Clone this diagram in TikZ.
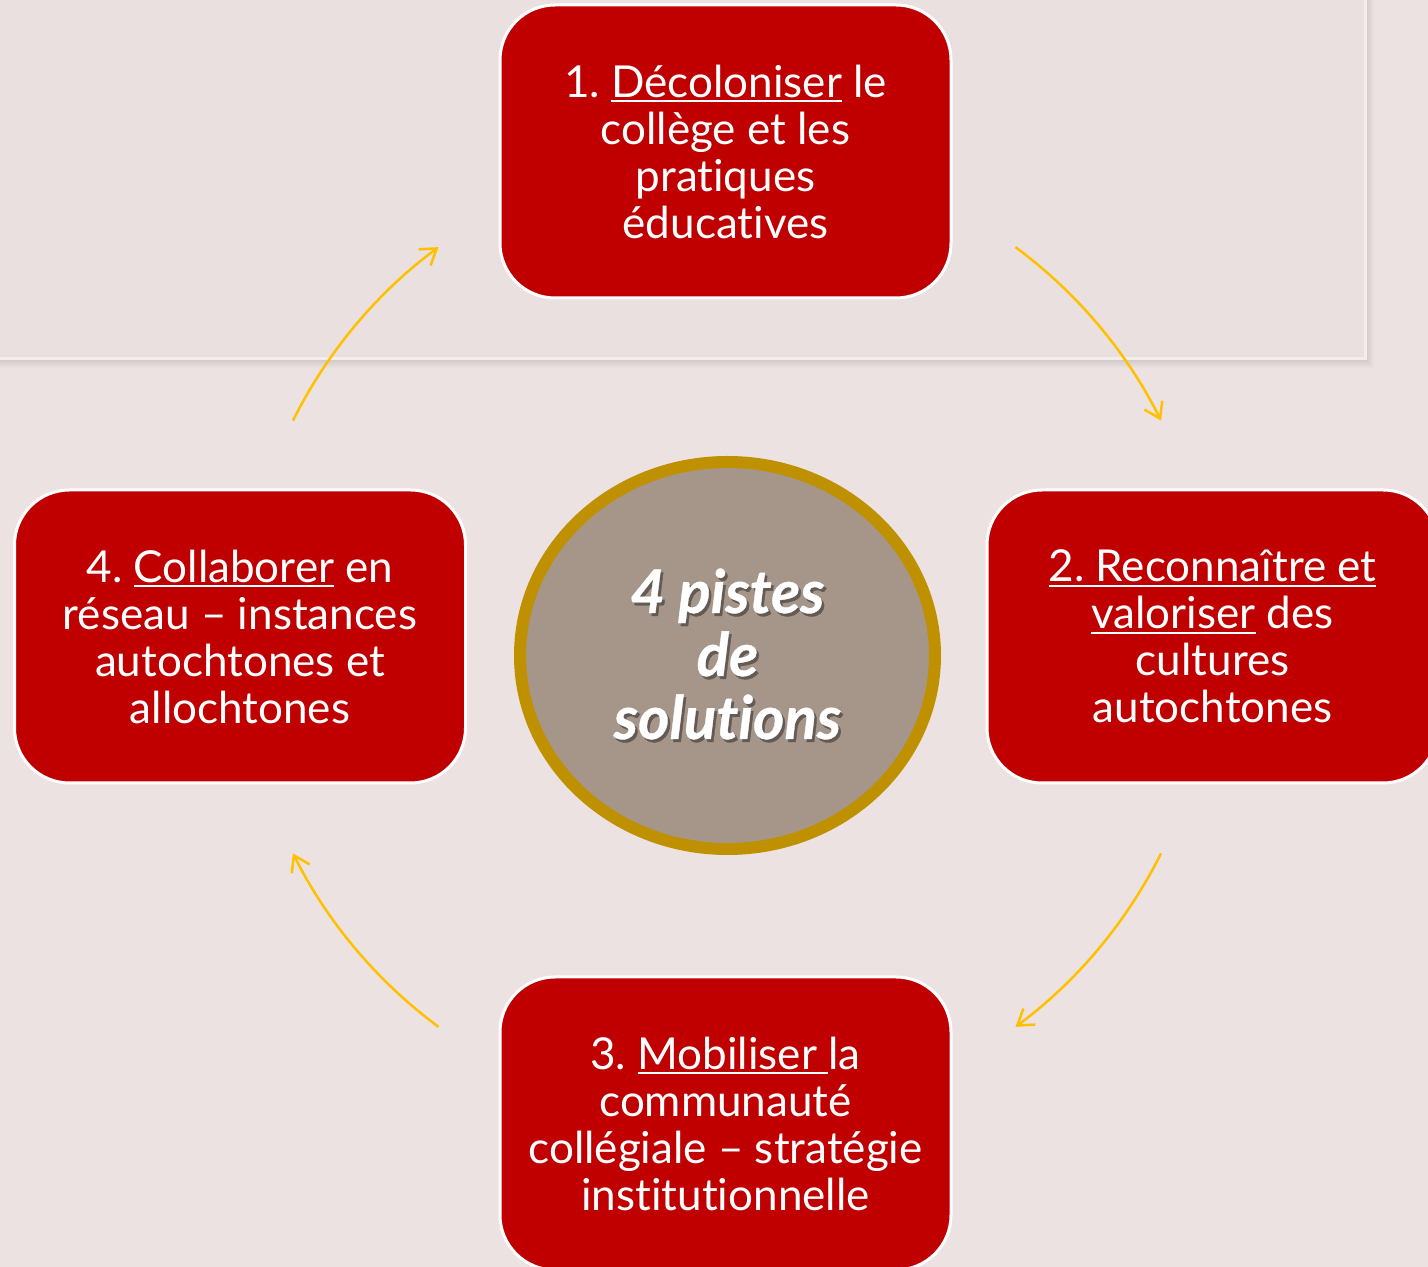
\documentclass[tikz,border=0pt]{standalone}
\usepackage{fontspec}
\setmainfont{Lato}[Ligatures={NoCommon,NoDiscretionary,NoRare}]
\newfontfamily\heavyfont{Lato}[FakeBold=0.6,Ligatures={NoCommon,NoDiscretionary,NoRare}]
\usetikzlibrary{arrows.meta,calc,shapes.geometric}
\definecolor{bgc}{HTML}{EBE2E1}
\definecolor{panelc}{HTML}{E9E0DF}
\definecolor{panelb}{HTML}{F2EEEB}
\definecolor{boxred}{HTML}{C00000}
\definecolor{circfill}{HTML}{A69689}
\definecolor{gold}{HTML}{BF9000}
\definecolor{arrowc}{HTML}{FFC000}
\definecolor{shadowc}{HTML}{645A54}
\newcommand\myul[1]{\setbox0\hbox{#1}\rlap{\rule[-5pt]{\wd0}{1.8pt}}\box0\relax}
\newcommand\shd[1]{\leavevmode\rlap{\kern2.5pt\raisebox{-3pt}{\color{shadowc}#1}}#1}
\frenchspacing
\begin{document}
\begin{tikzpicture}[x=1pt,y=1pt,
  box/.style={rounded corners=55pt, fill=boxred, draw=white, line width=3pt,
    minimum width=451pt, minimum height=293pt, inner sep=0pt, align=center,
    text=white, font=\fontsize{44}{47}\selectfont},
  arr/.style={draw=arrowc, line width=2.5pt, -{Straight Barb[length=15pt,width=20pt]}},
  centertext/.style={align=center, font=\heavyfont\fontsize{60}{63}\selectfont\bfseries\itshape}]
\useasboundingbox (0,0) rectangle (1428,1267);
\fill[bgc] (0,0) rectangle (1428,1267);
% panel with shadow
\foreach \i in {1,...,9}{
  \fill[black,opacity=0.012] (-20,908-\i) rectangle (1365+\i,1290);
}
\fill[panelc] (-20,908) rectangle (1365,1290);
\draw[panelb, line width=3pt] (-20,908) -- (1365,908) -- (1365,1290);
% boxes
\node[box] (b1) at (725.5,1115.5) {1. \myul{Décoloniser} le\\collège et les\\pratiques\\éducatives};
\node[box] (b2) at (1212.5,630.5) {\myul{2. Reconnaître et}\\\myul{valoriser} des\\cultures\\autochtones};
\node[box] (b3) at (725.5,143.5) {3. \myul{Mobiliser }la\\communauté\\collégiale – stratégie\\institutionnelle};
\node[box] (b4) at (240,630.5) {4. \myul{Collaborer} en\\réseau – instances\\autochtones et\\allochtones};
% center
\node[ellipse, draw=gold, fill=circfill, line width=12pt, inner sep=0pt,
  minimum width=415pt, minimum height=387pt] (c) at (727.5,611.5) {};
\node[centertext, text=white] (ct) at (c) {\shd{4 pistes}\\\shd{de}\\\shd{solutions}};
% arrows
\coordinate (o) at (727,630);
\coordinate (a1) at ($(o)+(53.5:485)$);
\coordinate (a2) at ($(o)+(-26.5:485)$);
\coordinate (a3) at ($(o)+(233.5:485)$);
\coordinate (a4) at ($(o)+(153.5:485)$);
\draw[arr] (a1) arc[start angle=53.5, end angle=26.5, radius=485];
\draw[arr] (a2) arc[start angle=-26.5, end angle=-53.5, radius=485];
\draw[arr] (a3) arc[start angle=233.5, end angle=206.5, radius=485];
\draw[arr] (a4) arc[start angle=153.5, end angle=126.5, radius=485];
\end{tikzpicture}
\end{document}
